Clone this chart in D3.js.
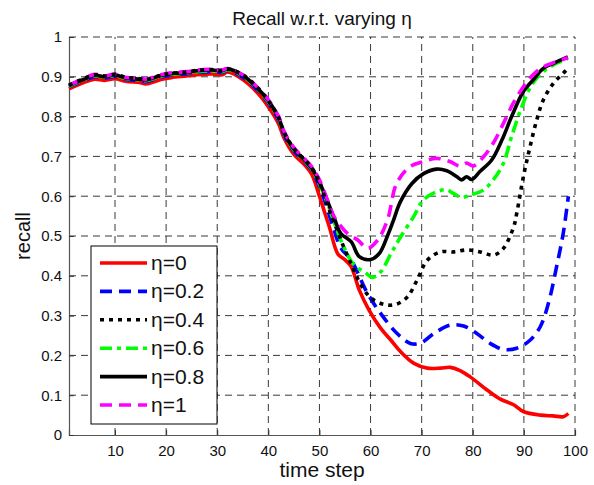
<!DOCTYPE html>
<html>
<head>
<meta charset="utf-8">
<script src="https://cdn.jsdelivr.net/npm/d3@7"></script>
<style>
  html, body { margin: 0; padding: 0; background: #fff; }
  svg { display: block; font-family: "Liberation Sans", Arial, Helvetica, sans-serif; }
</style>
</head>
<body>
<svg id="chart" width="594" height="485"></svg>
<script>
// ---------- data ----------
const xTicks = [10, 20, 30, 40, 50, 60, 70, 80, 90, 100];
const yTicks = [0, 0.1, 0.2, 0.3, 0.4, 0.5, 0.6, 0.7, 0.8, 0.9, 1];
const seriesNames = ["η=0", "η=0.2", "η=0.4", "η=0.6", "η=0.8", "η=1"];

const tCommon = [1, 4, 6, 8, 10, 12, 15, 16, 19, 21, 24, 26, 29, 31, 32, 35, 38, 40, 42, 43, 45, 47, 48.5, 50];

const eta0Head   = [0.870, 0.886, 0.894, 0.891, 0.895, 0.889, 0.885, 0.882, 0.893, 0.898, 0.902, 0.905, 0.907, 0.905, 0.912, 0.893, 0.858, 0.825, 0.782, 0.748, 0.705, 0.680, 0.655, 0.600];
const eta02Head  = [0.875, 0.891, 0.900, 0.897, 0.901, 0.894, 0.890, 0.888, 0.899, 0.904, 0.908, 0.911, 0.913, 0.911, 0.916, 0.899, 0.865, 0.834, 0.792, 0.757, 0.713, 0.688, 0.665, 0.625];
const eta04Head  = [0.879, 0.896, 0.905, 0.902, 0.906, 0.899, 0.895, 0.893, 0.904, 0.909, 0.912, 0.916, 0.918, 0.916, 0.920, 0.905, 0.871, 0.840, 0.798, 0.763, 0.720, 0.693, 0.672, 0.635];
const eta06Head  = [0.876, 0.893, 0.902, 0.899, 0.903, 0.896, 0.892, 0.890, 0.901, 0.906, 0.910, 0.913, 0.915, 0.913, 0.918, 0.902, 0.868, 0.837, 0.795, 0.760, 0.716, 0.690, 0.668, 0.630];
const eta08Head  = [0.878, 0.894, 0.904, 0.900, 0.905, 0.897, 0.894, 0.892, 0.903, 0.908, 0.911, 0.915, 0.917, 0.915, 0.920, 0.904, 0.870, 0.840, 0.798, 0.762, 0.718, 0.692, 0.670, 0.635];
const eta1Head   = [0.879, 0.896, 0.906, 0.902, 0.907, 0.899, 0.896, 0.894, 0.905, 0.910, 0.913, 0.917, 0.919, 0.917, 0.921, 0.905, 0.872, 0.842, 0.800, 0.765, 0.722, 0.695, 0.674, 0.641];

const eta0TailT  = [51, 52, 53.6, 55, 56.2, 57.8, 59.7, 62, 64, 65.9, 68.5, 71.1, 73.7, 75.6, 77.5, 79.5, 82.8, 85.4, 88, 89.9, 93.2, 95.7, 97.7, 98.7];
const eta0TailV  = [0.56, 0.52, 0.455, 0.44, 0.423, 0.364, 0.314, 0.268, 0.238, 0.209, 0.180, 0.168, 0.168, 0.170, 0.162, 0.146, 0.113, 0.090, 0.076, 0.059, 0.050, 0.048, 0.046, 0.054];

const eta02TailT = [51, 52.5, 54.2, 56.2, 59.4, 62, 65.2, 67.8, 69.8, 72.4, 75.6, 78.2, 80.8, 83.4, 86, 88.6, 91.2, 93.2, 94.8, 96.4, 97.7, 98.7];
const eta02TailV = [0.59, 0.53, 0.47, 0.44, 0.356, 0.305, 0.255, 0.230, 0.231, 0.255, 0.276, 0.274, 0.255, 0.230, 0.215, 0.218, 0.238, 0.272, 0.331, 0.423, 0.507, 0.60];

const eta04TailT = [51.5, 53, 54.5, 56.2, 57.8, 60, 62.7, 64.9, 67.2, 69.1, 71.1, 73.7, 76.3, 78.9, 81.5, 84.1, 86, 88, 88.6, 89.9, 91.2, 92.5, 93.8, 95.8, 97.7, 98.6];
const eta04TailV = [0.58, 0.53, 0.48, 0.43, 0.385, 0.345, 0.328, 0.328, 0.347, 0.389, 0.439, 0.460, 0.460, 0.465, 0.460, 0.452, 0.469, 0.523, 0.557, 0.649, 0.724, 0.791, 0.842, 0.884, 0.909, 0.921];

const eta06TailT = [51.5, 53, 54.5, 56.8, 58.8, 60.4, 62, 64, 65.9, 68.4, 70.3, 72.9, 74.9, 76.2, 77.8, 79.5, 82.1, 84, 86, 87.6, 89.6, 91.5, 93.8, 96.4, 98.6];
const eta06TailV = [0.585, 0.53, 0.48, 0.427, 0.41, 0.396, 0.41, 0.456, 0.498, 0.548, 0.590, 0.611, 0.616, 0.607, 0.597, 0.603, 0.616, 0.641, 0.683, 0.750, 0.825, 0.879, 0.913, 0.934, 0.946];

const eta08TailT = [51.5, 52.9, 54.2, 56.2, 57.8, 60, 61.7, 63.3, 64.5, 65.8, 68.1, 70.3, 72.9, 74.9, 76.9, 77.8, 78.8, 79.8, 81.4, 83.7, 85.7, 87.6, 89.9, 91.8, 93.8, 95.8, 98.6];
const eta08TailV = [0.59, 0.545, 0.506, 0.486, 0.448, 0.441, 0.456, 0.50, 0.54, 0.585, 0.632, 0.656, 0.668, 0.664, 0.649, 0.641, 0.649, 0.642, 0.662, 0.691, 0.741, 0.800, 0.863, 0.892, 0.921, 0.934, 0.950];

const eta1TailT  = [51.7, 52.9, 55.5, 57.5, 59.4, 61.4, 63.3, 65.1, 67.7, 70.3, 72.9, 75.5, 77.5, 78.8, 80.1, 82.1, 84, 86, 87.9, 89.9, 91.8, 93.8, 96.4, 98.6];
const eta1TailV  = [0.586, 0.548, 0.506, 0.490, 0.469, 0.490, 0.540, 0.632, 0.674, 0.687, 0.695, 0.687, 0.676, 0.683, 0.676, 0.699, 0.733, 0.783, 0.833, 0.875, 0.905, 0.925, 0.938, 0.948];

// ---------- styles ----------
const styles = [
  { color: "#ff0000", dash: null },
  { color: "#0000ff", dash: "12,7" },
  { color: "#000000", dash: "4,5" },
  { color: "#00ff00", dash: "12,5,4,5" },
  { color: "#000000", dash: null },
  { color: "#ff00ff", dash: "12,7" }
];

const heads = [eta0Head, eta02Head, eta04Head, eta06Head, eta08Head, eta1Head];
const tailsT = [eta0TailT, eta02TailT, eta04TailT, eta06TailT, eta08TailT, eta1TailT];
const tailsV = [eta0TailV, eta02TailV, eta04TailV, eta06TailV, eta08TailV, eta1TailV];

const series = seriesNames.map((name, i) => ({
  name,
  style: styles[i],
  points: tCommon.map((t, j) => [t, heads[i][j]])
    .concat(tailsT[i].map((t, j) => [t, tailsV[i][j]]))
}));

// ---------- layout ----------
const svg = d3.select("#chart");
const m = { left: 69, right: 19, top: 37, bottom: 50 };
const W = 594, H = 485;
const x = d3.scaleLinear().domain([1, 100]).range([m.left, W - m.right]);
const y = d3.scaleLinear().domain([0, 1]).range([H - m.bottom, m.top]);

svg.append("rect").attr("width", W).attr("height", H).attr("fill", "#fff");

// grid
const grid = svg.append("g");
grid.selectAll("line.v").data(xTicks).enter().append("line")
  .attr("x1", d => x(d)).attr("x2", d => x(d))
  .attr("y1", y(0)).attr("y2", y(1))
  .attr("stroke", "#222").attr("stroke-width", 0.9).attr("stroke-dasharray", "7,5");
grid.selectAll("line.h").data(yTicks.slice(1)).enter().append("line")
  .attr("x1", x(1)).attr("x2", x(100))
  .attr("y1", d => y(d)).attr("y2", d => y(d))
  .attr("stroke", "#222").attr("stroke-width", 0.9).attr("stroke-dasharray", "7,5");

// axes
const fmt = d => (d === 0 || d === 1) ? String(d) : d3.format(".1f")(d);
const xAxis = d3.axisBottom(x).tickValues(xTicks).tickSize(-5).tickPadding(10).tickFormat(d3.format("d"));
const yAxis = d3.axisLeft(y).tickValues(yTicks).tickSize(-5).tickPadding(7).tickFormat(fmt);

const gx = svg.append("g").attr("transform", `translate(0,${y(0)})`).call(xAxis);
const gy = svg.append("g").attr("transform", `translate(${x(1)},0)`).call(yAxis);
[gx, gy].forEach(g => {
  g.select(".domain").attr("stroke", "#555").attr("stroke-width", 1.2);
  g.selectAll(".tick line").attr("stroke", "#333");
  g.selectAll(".tick text").attr("fill", "#111").style("font-size", "15px")
    .style("font-family", "'Liberation Sans', Arial, sans-serif");
});

// lines
const line = d3.line().x(d => x(d[0])).y(d => y(d[1])).curve(d3.curveCatmullRom.alpha(0.5));
const drawOrder = [0, 1, 3, 4, 5, 2];
const gl = svg.append("g");
drawOrder.forEach(i => {
  const s = series[i];
  gl.append("path").datum(s.points)
    .attr("d", line)
    .attr("fill", "none")
    .attr("stroke", s.style.color)
    .attr("stroke-width", 3.6)
    .attr("stroke-linejoin", "round")
    .attr("stroke-dasharray", s.style.dash);
});

// title and labels
svg.append("text").attr("x", (x(1) + x(100)) / 2).attr("y", 25)
  .attr("text-anchor", "middle").style("font-size", "19px").attr("fill", "#111")
  .text("Recall w.r.t. varying η");
svg.append("text").attr("x", (x(1) + x(100)) / 2).attr("y", 477)
  .attr("text-anchor", "middle").style("font-size", "21px").attr("fill", "#111")
  .text("time step");
svg.append("text").attr("transform", `translate(30,${(y(0) + y(1)) / 2}) rotate(-90)`)
  .attr("text-anchor", "middle").style("font-size", "20px").attr("fill", "#111")
  .text("recall");

// legend
const lg = svg.append("g");
lg.append("rect").attr("x", 91).attr("y", 246).attr("width", 126).attr("height", 178)
  .attr("fill", "#fff").attr("stroke", "#000").attr("stroke-width", 1);
series.forEach((s, i) => {
  const yy = 263 + i * 28.4;
  lg.append("line").attr("x1", 100).attr("x2", 147).attr("y1", yy).attr("y2", yy)
    .attr("stroke", s.style.color).attr("stroke-width", 3.6)
    .attr("stroke-dasharray", s.style.dash);
  lg.append("text").attr("x", 151).attr("y", yy + 7)
    .style("font-size", "21px").attr("fill", "#111").text(s.name);
});
</script>
</body>
</html>
